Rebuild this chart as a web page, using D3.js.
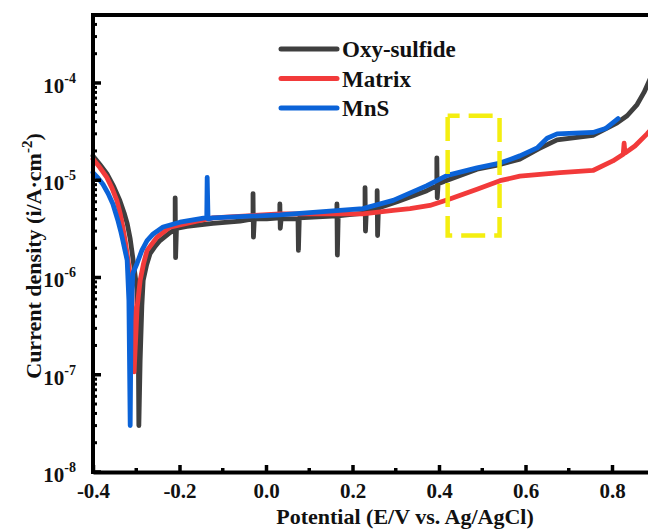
<!DOCTYPE html>
<html><head><meta charset="utf-8">
<script src="https://cdn.jsdelivr.net/npm/d3@7"></script>
<style>body{margin:0;background:#fff}svg{display:block}text{font-family:"Liberation Serif","Times New Roman",serif;font-weight:bold;fill:#111}</style>
</head><body><svg id="c" width="648" height="530"></svg>
<script>
// Data (E in V vs Ag/AgCl, i in A/cm^2)
const seriesNames = ["Oxy-sulfide", "Matrix", "MnS"];
const seriesColors = ["#3f3f3f", "#f23a3a", "#0b63d8"];
const oxyE = [-0.400,-0.384,-0.368,-0.352,-0.338,-0.328,-0.321,-0.314,-0.308,-0.302,-0.298,-0.295,-0.294,-0.291,-0.287,-0.284,-0.276,-0.268,-0.256,-0.245,-0.222,
  -0.210,-0.210,-0.209,-0.207,-0.183,-0.123,-0.060,
  -0.030,-0.030,-0.029,-0.027,0.002,
  0.032,0.032,0.033,0.035,
  0.074,0.075,0.077,0.120,
  0.164,0.164,0.165,0.167,0.187,
  0.229,0.229,0.230,0.232,
  0.257,0.257,0.258,0.260,0.303,0.372,
  0.395,0.395,0.396,0.398,0.419,0.488,0.541,0.587,0.630,0.673,0.756,0.812,0.835,0.858,0.874,0.890];
const oxyI = [1.78e-5,1.45e-5,1.17e-5,8.6e-6,6.2e-6,4.6e-6,3.6e-6,2.5e-6,1.6e-6,1.0e-6,7.4e-7,1.4e-7,3.0e-8,1.4e-7,5.2e-7,9.3e-7,1.35e-6,1.76e-6,2.1e-6,2.4e-6,2.9e-6,
  3.1e-6,6.6e-6,1.6e-6,3.2e-6,3.35e-6,3.6e-6,3.8e-6,
  4.0e-6,7.3e-6,2.6e-6,4.0e-6,4.0e-6,
  4.1e-6,5.7e-6,3.2e-6,4.0e-6,
  4.0e-6,1.9e-6,4.1e-6,4.2e-6,
  4.3e-6,5.7e-6,1.7e-6,4.3e-6,4.4e-6,
  4.6e-6,8.4e-6,3.0e-6,4.8e-6,
  5.0e-6,7.8e-6,2.7e-6,5.2e-6,6.0e-6,7.8e-6,
  8.8e-6,1.7e-5,6.6e-6,9.2e-6,1.0e-5,1.3e-5,1.45e-5,1.65e-5,2.1e-5,2.6e-5,2.9e-5,3.9e-5,4.6e-5,6.0e-5,8.0e-5,1.15e-4];
const matE = [-0.400,-0.384,-0.368,-0.356,-0.345,-0.337,-0.331,-0.325,-0.319,-0.314,-0.310,-0.305,-0.298,-0.291,-0.283,-0.275,-0.252,-0.222,-0.160,-0.123,0.032,0.224,0.294,0.333,0.379,0.425,0.488,0.541,0.587,0.680,0.756,0.802,0.826,0.828,0.830,0.853,0.881,0.892];
const matI = [1.65e-5,1.35e-5,1.07e-5,8.3e-6,6.2e-6,4.5e-6,3.3e-6,2.3e-6,1.5e-6,1.05e-6,7.4e-7,1.07e-7,4.9e-7,9.3e-7,1.4e-6,1.9e-6,2.6e-6,3.3e-6,3.8e-6,4.1e-6,4.5e-6,4.5e-6,4.9e-6,5.1e-6,5.5e-6,6.4e-6,8.1e-6,9.9e-6,1.1e-5,1.2e-5,1.26e-5,1.58e-5,1.85e-5,2.4e-5,1.9e-5,2.25e-5,3.0e-5,3.4e-5];
const mnsE = [-0.400,-0.388,-0.377,-0.365,-0.354,-0.342,-0.336,-0.331,-0.326,-0.321,-0.317,-0.314,-0.312,-0.308,-0.298,-0.287,-0.275,-0.261,-0.238,-0.199,-0.141,-0.137,-0.136,-0.134,-0.123,0.032,0.224,0.294,0.372,0.419,0.488,0.541,0.587,0.627,0.650,0.673,0.756,0.785,0.814];
const mnsI = [1.2e-5,1.05e-5,9.1e-6,7.3e-6,5.7e-6,3.8e-6,3.0e-6,2.4e-6,1.9e-6,1.5e-6,5.8e-7,3.0e-8,3.6e-7,1.1e-6,1.4e-6,1.9e-6,2.4e-6,2.8e-6,3.3e-6,3.7e-6,4.1e-6,4.1e-6,1.07e-5,4.0e-6,4.1e-6,4.4e-6,5.1e-6,6.2e-6,8.8e-6,1.12e-5,1.34e-5,1.5e-5,1.78e-5,2.15e-5,2.7e-5,3.0e-5,3.1e-5,3.4e-5,4.3e-5];
const xTicks = [-0.4,-0.2,0.0,0.2,0.4,0.6,0.8];
const yTickExps = [-8,-7,-6,-5,-4];
// annotation box (E range, i range)
const boxE = [0.42, 0.54];
const boxI = [2.7e-6, 4.6e-5];

const svg = d3.select("#c");
const x = d3.scaleLinear().domain([-0.4, 0.9]).range([93, 655.25]);
const y = d3.scaleLog().domain([1e-8, 5e-4]).range([472, 15]);

const series = [
  {E: oxyE, I: oxyI}, {E: matE, I: matI}, {E: mnsE, I: mnsI}
];
const line = d3.line().x(d => x(d[0])).y(d => y(d[1]));
series.forEach((s, k) => {
  const pts = s.E.map((e, j) => [e, s.I[j]]);
  svg.append("path").attr("d", line(pts)).attr("fill", "none")
    .attr("stroke", seriesColors[k]).attr("stroke-width", 4.8)
    .attr("stroke-linejoin", "round").attr("stroke-linecap", "round");
});

// annotation
svg.append("rect").attr("x", x(boxE[0])).attr("y", y(boxI[1]))
  .attr("width", x(boxE[1]) - x(boxE[0])).attr("height", y(boxI[0]) - y(boxI[1]))
  .attr("fill", "none").attr("stroke", "#f4ee10").attr("stroke-width", 4.5)
  .attr("stroke-dasharray", "24,9").attr("stroke-dashoffset", 12);

// axes
const xAxis = d3.axisBottom(x).tickValues(xTicks).tickSizeInner(-7).tickSizeOuter(0)
  .tickPadding(11);
const gx = svg.append("g").attr("transform", "translate(0,472)").call(xAxis);
gx.select(".domain").attr("stroke", "#000").attr("stroke-width", 4);
gx.selectAll(".tick line").attr("stroke", "#000").attr("stroke-width", 3.5);
gx.selectAll(".tick text").attr("font-size", 21).attr("fill", "#111")
  .attr("font-family", "Liberation Serif").attr("font-weight", "bold")
  .text(d => d < 0 ? "-" + Math.abs(d).toFixed(1) : d.toFixed(1));
// minor x ticks
const xMinor = d3.range(-0.3, 0.9, 0.2);
svg.append("g").selectAll("line").data(xMinor).join("line")
  .attr("x1", d => x(d)).attr("x2", d => x(d)).attr("y1", 472).attr("y2", 468)
  .attr("stroke", "#000").attr("stroke-width", 3.5);

const gy = svg.append("g").attr("transform", "translate(93,0)");
gy.append("line").attr("x1", 0).attr("x2", 0).attr("y1", 13).attr("y2", 474)
  .attr("stroke", "#000").attr("stroke-width", 4);
// top border
svg.append("line").attr("x1", 91).attr("x2", 660).attr("y1", 15).attr("y2", 15)
  .attr("stroke", "#000").attr("stroke-width", 4);
// y major ticks
yTickExps.forEach(p => {
  const yy = y(Math.pow(10, p));
  gy.append("line").attr("x1", 0).attr("x2", 8).attr("y1", yy).attr("y2", yy)
    .attr("stroke", "#000").attr("stroke-width", 3.5);
  const t = gy.append("text").attr("x", -17).attr("y", yy + 10).attr("text-anchor", "end")
    .attr("font-size", 21);
  t.append("tspan").text("10");
  t.append("tspan").attr("dy", -10).attr("font-size", 14).text(String(p));
});
// y minor ticks
const yMinor = [];
for (let p = -8; p < -3; p++) for (let m = 2; m <= 9; m++) {
  const v = m * Math.pow(10, p); if (v <= 5e-4) yMinor.push(v);
}
gy.selectAll("line.minor").data(yMinor).join("line").attr("class", "minor")
  .attr("x1", 0).attr("x2", 4).attr("y1", d => y(d)).attr("y2", d => y(d))
  .attr("stroke", "#000").attr("stroke-width", 3);

// axis titles
svg.append("text").attr("x", 405).attr("y", 524).attr("text-anchor", "middle")
  .attr("font-size", 22).text("Potential (E/V vs. Ag/AgCl)");
const yt = svg.append("text").attr("transform", "translate(41,256) rotate(-90)")
  .attr("text-anchor", "middle").attr("font-size", 22);
yt.append("tspan").text("Current density (i/A·cm");
yt.append("tspan").attr("dy", -9).attr("font-size", 15).text("-2");
yt.append("tspan").attr("dy", 9).text(")");

// legend
seriesNames.forEach((n, k) => {
  const ly = 49 + k * 29.5;
  svg.append("line").attr("x1", 281).attr("x2", 337).attr("y1", ly).attr("y2", ly)
    .attr("stroke", seriesColors[k]).attr("stroke-width", 5).attr("stroke-linecap", "round");
  svg.append("text").attr("x", 342).attr("y", ly + 8).attr("font-size", 23).text(n);
});
</script></body></html>
